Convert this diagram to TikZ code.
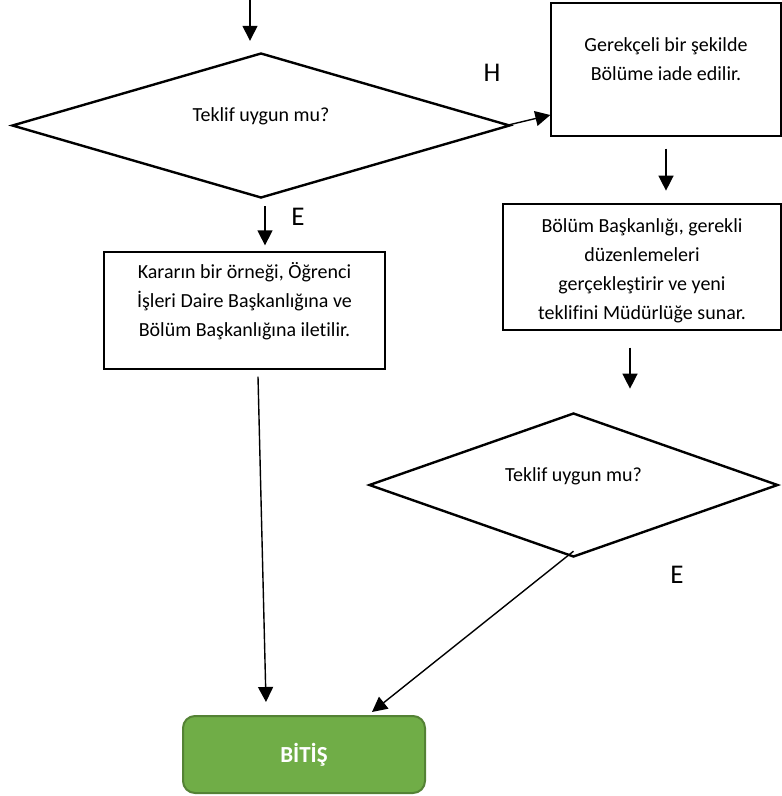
\documentclass[tikz,border=0pt]{standalone}
\usepackage{fontspec}
\setmainfont{Carlito}[Ligatures=CommonOff]
\usetikzlibrary{shapes.geometric,arrows.meta,positioning,calc}
\definecolor{endgreen}{RGB}{112,173,71}
\definecolor{endborder}{RGB}{84,130,53}
\newcommand{\liftlines}[2]{\raisebox{#1}[0pt][0pt]{\begin{tabular}{@{}c@{}}#2\end{tabular}}}

\begin{document}
\begin{tikzpicture}[x=1pt, y=-1pt,
        decision/.style={diamond, draw=black, line width=2.4pt, aspect=3.4, inner sep=0pt, font=\fontsize{20}{29}\selectfont},
        box/.style={rectangle, draw=black, line width=1.3pt, inner sep=0pt, font=\fontsize{20}{29}\selectfont},
        terminal/.style={rectangle, rounded corners=12pt, draw=endborder, line width=2pt, fill=endgreen, text=white, minimum width=242pt, minimum height=77pt, font=\fontsize{23}{27}\selectfont\bfseries},
        answer/.style={font=\fontsize{27}{32}\selectfont},
        arrow/.style={-{Triangle[length=15pt,width=15pt]}, line width=1.4pt}]

        \useasboundingbox (0,0) rectangle (782,796);

        \coordinate (entry) at (250,0);
        \node[decision, minimum width=498pt, minimum height=145pt] (check) at (261,125.5) {\raisebox{4.5pt}[0pt][0pt]{Teklif uygun mu?}};
        \node[box, minimum width=230pt, minimum height=133pt] (return) at (666,69.5) {\liftlines{4pt}{Gerekçeli bir şekilde\\Bölüme iade edilir.}};
        \node[box, minimum width=278pt, minimum height=126pt] (revise) at (642,267) {\liftlines{-8pt}{Bölüm Başkanlığı, gerekli\\düzenlemeleri\\gerçekleştirir ve yeni\\teklifini Müdürlüğe sunar.}};
        \node[box, minimum width=281pt, minimum height=117pt] (notify) at (244.5,310.5) {\liftlines{3.5pt}{Kararın bir örneği, Öğrenci\\İşleri Daire Başkanlığına ve\\Bölüm Başkanlığına iletilir.}};
        \node[decision, minimum width=409pt, minimum height=144pt] (recheck) at (573.5,485) {\raisebox{3.5pt}[0pt][0pt]{Teklif uygun mu?}};
        \node[terminal] (finish) at (304,754.5) {BİTİŞ};

        \node[answer] (lblH) at (492,73) {H};
        \node[answer] (lblE1) at (298,217) {E};
        \node[answer] (lblE2) at (677,575) {E};

        \draw[arrow] (entry) -- ([xshift=-11pt,yshift=11pt]check.north);
        \draw[arrow] ([xshift=-5pt]check.east) -- ([yshift=-45.5pt]return.west);
        \draw[arrow] ([yshift=-12pt]return.south) -- ([yshift=-54pt]return.south);
        \draw[arrow] ([xshift=-12pt,yshift=-17pt]revise.south) -- ([xshift=-12pt,yshift=-58pt]revise.south);
        \draw[arrow] ([xshift=4pt,yshift=-7pt]check.south) -- ([xshift=20.5pt,yshift=6pt]notify.north);
        \draw[arrow] ([xshift=13.5pt,yshift=-7pt]notify.south) -- ([xshift=-38pt,yshift=13pt]finish.north);
        \draw[arrow] ([yshift=7pt]recheck.south) -- ([xshift=68pt,yshift=3pt]finish.north);

    \end{tikzpicture}
\end{document}
